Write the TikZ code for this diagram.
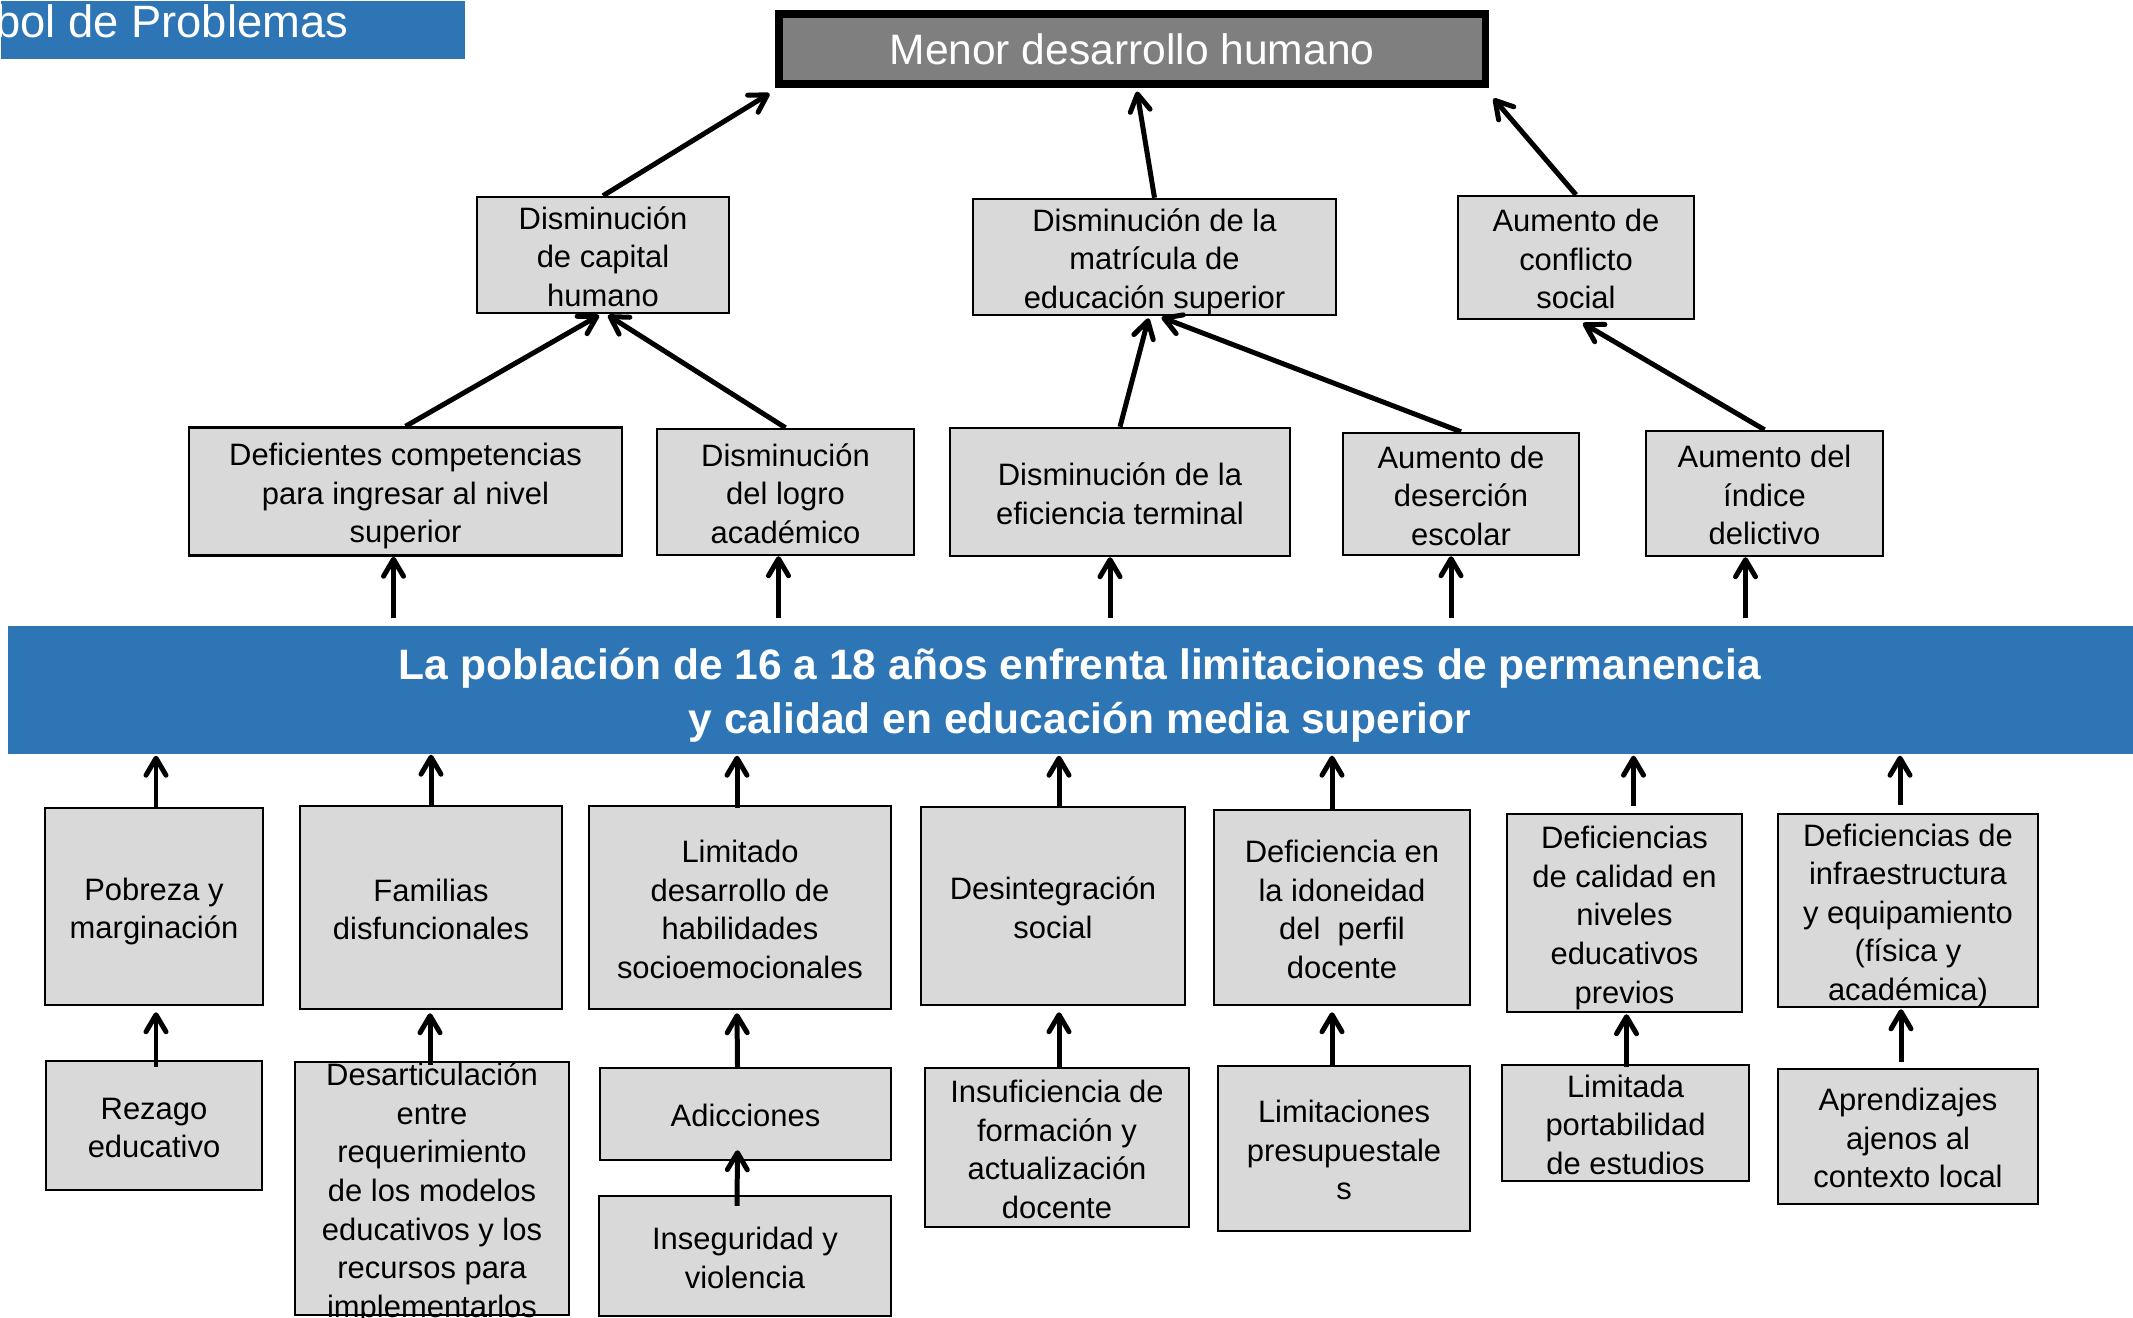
\documentclass[tikz,border=0pt]{standalone}
\usepackage{fontspec}
\setmainfont{Liberation Sans}
\usetikzlibrary{arrows.meta,calc}
\definecolor{bannerblue}{HTML}{2E75B6}
\definecolor{boxgray}{HTML}{D9D9D9}
\definecolor{topgray}{HTML}{7F7F7F}
\newcommand\boxfont{\fontsize{8.8pt}{10.95pt}\selectfont}
\newcommand\bannerfont{\fontsize{12.1pt}{15.4pt}\selectfont\bfseries}
\newcommand\topfont{\fontsize{12.1pt}{14pt}\selectfont}
\newcommand\titlefont{\fontsize{12.9pt}{15pt}\selectfont}
\newcommand\tb[1]{\rule{0pt}{1.05em}#1\rule[-0.212em]{0pt}{0.212em}}
\tikzset{
  sz/.style 2 args={minimum width=#1*0.01cm, minimum height=#2*0.01cm},
  box/.style={draw=black, fill=boxgray, line width=0.7pt, inner sep=0pt, align=center, font=\boxfont},
  boxtext/.style={inner sep=0pt, align=center, font=\boxfont},
  topbox/.style={draw=black, fill=topgray, line width=2pt, inner sep=0pt, text=white, font=\topfont},
  bannerbox/.style={fill=bannerblue, inner sep=0pt},
  bannertext/.style={inner sep=0pt, text=white, font=\bannerfont, align=center},
  arr/.style={line width=1.42pt, -{Straight Barb[length=0.17cm,width=0.2cm,round]}}
}
\begin{document}
\begin{tikzpicture}[x=0.01cm,y=-0.01cm]
\useasboundingbox (0,0) rectangle (2133,1317);
\fill[white] (0,0) rectangle (2133,1317);

% title bar
\node[fill=bannerblue, sz={464}{58}, inner sep=0pt, anchor=north west] (titlebar) at (0,0) {};
\node[anchor=base east, text=white, font=\titlefont, inner sep=0pt] (titletext) at (349,37.5) {bol de Problemas};

% effect
\node[topbox, sz={706}{70}] (top) at (1132,49) {Menor desarrollo humano};

% level 2
\node[box, sz={252}{116}] (cap) at (603,255) {\tb{Disminución\\de capital\\humano}};
\node[box, sz={363}{114}] (matr) at (1154.5,257) {\tb{Disminución de la\\matrícula de\\educación superior}};
\node[box, sz={236}{123}] (confl) at (1576,257.5) {\tb{Aumento de\\conflicto\\social}};

% level 3
\node[box, sz={433}{128}] (defc) at (405.5,491.5) {\tb{Deficientes competencias\\para ingresar al nivel\\superior}};
\node[box, sz={257}{126}] (logro) at (785.5,492) {\tb{Disminución\\del logro\\académico}};
\node[box, sz={340}{128}] (efic) at (1120,492) {\tb{Disminución de la\\eficiencia terminal}};
\node[box, sz={236}{122}] (deser) at (1461,494) {\tb{Aumento de\\deserción\\escolar}};
\node[box, sz={237}{125}] (delic) at (1764.5,493.5) {\tb{Aumento del\\índice\\delictivo}};

% central problem
\node[bannerbox, sz={2144}{128}] (banner) at (1080,690) {};
\node[bannertext] (bannerlabel) at ($(banner.center)+(0,5.5)$) {La población de 16 a 18 años enfrenta limitaciones de permanencia\\y calidad en educación media superior};

% causes level 1
\node[box, sz={218}{197}] (pob) at (154,906.5) {\tb{Pobreza y\\marginación}};
\node[box, sz={262}{203}] (fam) at (431,907.5) {\tb{Familias\\disfuncionales}};
\node[box, sz={302}{203}] (lim) at (740,907.5) {\tb{Limitado\\desarrollo de\\habilidades\\socioemocionales}};
\node[box, sz={264}{198}] (des) at (1053,906) {\tb{Desintegración\\social}};
\node[box, sz={256}{195}] (ido) at (1342,907.5) {\tb{Deficiencia en\\la idoneidad\\del\ \ perfil\\docente}};
\node[box, sz={235}{198}] (cal) at (1624.5,913) {\tb{Deficiencias\\de calidad en\\niveles\\educativos\\previos}};
\node[box, sz={260}{193}] (inf) at (1908,910.5) {\tb{Deficiencias de\\infraestructura\\y equipamiento\\(física y\\académica)}};

% causes level 2
\node[box, sz={216}{129}] (rez) at (154,1125.5) {\tb{Rezago\\educativo}};
\node[box, sz={274}{253}] (desa) at (432,1188.5) {};
\node[boxtext] (desatext) at (desa.center) {\tb{Desarticulación\\entre\\requerimiento\\de los modelos\\educativos y los\\recursos para\\implementarlos}};
\node[box, sz={291}{92}] (adi) at (745.5,1114) {\tb{Adicciones}};
\node[box, sz={292}{120}] (ins) at (745,1256) {\tb{Inseguridad y\\violencia}};
\node[box, sz={264}{159}] (insu) at (1057,1147.5) {\tb{Insuficiencia de\\formación y\\actualización\\docente}};
\node[box, sz={252}{165}] (limi) at (1344,1148.5) {\tb{Limitaciones\\presupuestale\\s}};
\node[box, sz={247}{114}] (port) at (1625.5,1123) {\tb{Limitada\\portabilidad\\de estudios}};
\node[box, sz={260}{135}] (apr) at (1908,1136.5) {\tb{Aprendizajes\\ajenos al\\contexto local}};

% arrows: level 2 -> effect
\draw[arr] (cap.north) -- ($(top.south west)+(-6,6)$);
\draw[arr] (matr.north) -- ($(top.south)+(5,4)$);
\draw[arr] (confl.north) -- ($(top.south east)+(5,11)$);

% arrows: level 3 -> level 2
\draw[arr] (defc.north) -- ($(cap.south)+(-4,1)$);
\draw[arr] (logro.north) -- ($(cap.south)+(5,1)$);
\draw[arr] (efic.north) -- ($(matr.south)+(-6,2)$);
\draw[arr] (deser.north) -- ($(matr.south)+(7,1)$);
\draw[arr] (delic.north) -- ($(confl.south)+(7,3)$);

% arrows: banner -> level 3
\draw[arr] ($(defc.south |- banner.north)+(-12,-7)$) -- ($(defc.south)+(-12,0)$);
\draw[arr] ($(logro.south |- banner.north)+(-7,-7)$) -- ($(logro.south)+(-7,0)$);
\draw[arr] ($(efic.south |- banner.north)+(-10,-7)$) -- ($(efic.south)+(-10,0)$);
\draw[arr] ($(deser.south |- banner.north)+(-10,-7)$) -- ($(deser.south)+(-10,0)$);
\draw[arr] ($(delic.south |- banner.north)+(-19,-7)$) -- ($(delic.south)+(-19,0)$);

% arrows: causes level 1 -> banner
\draw[arr] ($(pob.north)+(2,0)$) -- ($(pob.north |- banner.south)+(2,1)$);
\draw[arr] (fam.north) -- (fam.north |- banner.south);
\draw[arr] ($(lim.north)+(-3,3)$) -- ($(lim.north |- banner.south)+(-3,1)$);
\draw[arr] ($(des.north)+(6,0)$) -- ($(des.north |- banner.south)+(6,1)$);
\draw[arr] ($(ido.north)+(-10,0)$) -- ($(ido.north |- banner.south)+(-10,1)$);
\draw[arr] ($(cal.north)+(9,-7)$) -- ($(cal.north |- banner.south)+(9,1)$);
\draw[arr] ($(inf.north)+(-8,-8)$) -- ($(inf.north |- banner.south)+(-8,1)$);

% arrows: causes level 2 -> causes level 1
\draw[arr] ($(rez.north)+(2,7)$) -- ($(pob.south)+(2,6)$);
\draw[arr] ($(desa.north)+(-2,4)$) -- ($(fam.south)+(-1,3)$);
\draw[arr] ($(adi.north)+(-8,0)$) -- ($(lim.south)+(-3,3)$);
\draw[arr] ($(ins.north)+(-8,11)$) -- ($(adi.south)+(-8,-11)$);
\draw[arr] ($(insu.north)+(2,0)$) -- ($(des.south)+(6,6)$);
\draw[arr] ($(limi.north)+(-12,0)$) -- ($(ido.south)+(-10,6)$);
\draw[arr] ($(port.north)+(1,3)$) -- ($(cal.south)+(2,1)$);
\draw[arr] ($(apr.north)+(-7,-6)$) -- ($(inf.south)+(-7,1)$);
\end{tikzpicture}
\end{document}
